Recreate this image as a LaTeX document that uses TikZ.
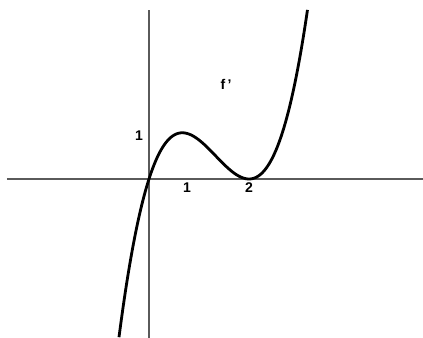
\documentclass[tikz,border=0pt]{standalone}
\usepackage{fontspec}
\setmainfont{Liberation Sans}
\usetikzlibrary{positioning}
\definecolor{axisgrey}{HTML}{5A5A5A}

\begin{document}
\begin{tikzpicture}[
    x=0.02cm, y=0.02cm,
    % Styles
    axis/.style={draw=axisgrey, line width=1.1pt},
    curve/.style={draw=black, line width=1.6pt, line join=round},
    tick/.style={font=\fontsize{8}{9}\selectfont\bfseries, inner sep=0pt},
]
\useasboundingbox (-149,-159) rectangle (274,179);

% ============================================================================
% AXES
% ============================================================================
\coordinate (xleft) at (-142,0);
\coordinate (xright) at (274,0);
\coordinate (ytop) at (0,169);
\coordinate (ybottom) at (0,-159);
\draw[axis] (xleft) -- (xright);
\draw[axis] (ybottom) -- (ytop);

% ============================================================================
% LABELS
% ============================================================================
\node[tick] (yone) at (-10,43) {1};
\node[tick] (xone) at (38,-9) {1};
\node[tick] (xtwo) at (100,-9) {2};
\node[tick] (fname) at (77,95) {f\,'};

% ============================================================================
% CURVE  f'(x) = x (x-2)^2
% ============================================================================
\draw[curve] plot[domain=-0.6:3.17, samples=120, smooth] ({50*\x},{39*\x*(\x-2)^2});

\end{tikzpicture}
\end{document}
